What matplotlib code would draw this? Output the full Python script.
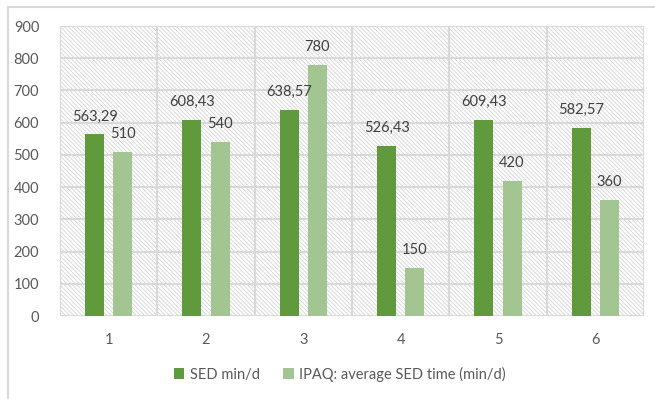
import matplotlib.pyplot as plt
import numpy as np
from matplotlib.patches import Rectangle

plt.rcParams['font.family'] = ['Lato', 'DejaVu Sans']
plt.rcParams['hatch.linewidth'] = 0.7
plt.rcParams['hatch.color'] = '#d9d9d9'

categories = ['1', '2', '3', '4', '5', '6']
sed_min = [563.29, 608.43, 638.57, 526.43, 609.43, 582.57]
ipaq_sed = [510, 540, 780, 150, 420, 360]
series_names = ['SED min/d', 'IPAQ: average SED time (min/d)']
yticks = [0, 100, 200, 300, 400, 500, 600, 700, 800, 900]

dark = '#609a3c'
light = '#a2c591'
grid_c = '#d9d9d9'
text_c = '#404040'


def fmt(v):
    # comma as decimal separator
    if float(v).is_integer():
        return '{:d}'.format(int(v))
    return '{:.2f}'.format(v).replace('.', ',')


fig = plt.figure(figsize=(6.55, 3.99), dpi=100)
ax = fig.add_axes([60 / 655, 1 - 316 / 399, 584 / 655, 290 / 399])

# outer chart frame
fig.patches.append(Rectangle((8 / 655, -0.1), 1.2, 1 - 7 / 399 + 0.1,
                             transform=fig.transFigure, fill=False,
                             edgecolor=grid_c, linewidth=1.5))

x = np.arange(1, len(categories) + 1)
off = 0.144
w = 0.195

# hatched plot background
ax.add_patch(Rectangle((0.5, 0), 6, 900, facecolor='white', hatch='\\' * 8,
                       edgecolor='#d9d9d9', linewidth=0, zorder=0))

for yv in yticks:
    ax.axhline(yv, color=grid_c, linewidth=1.5, zorder=1)
for xv in np.arange(0.5, 7, 1):
    ax.axvline(xv, color=grid_c, linewidth=1.5, zorder=1)

b1 = ax.bar(x - off, sed_min, w, color=dark, zorder=2, label=series_names[0])
b2 = ax.bar(x + off, ipaq_sed, w, color=light, zorder=2, label=series_names[1])

for xi, v in zip(x - off, sed_min):
    ax.annotate(fmt(v), (xi, v), xytext=(0, 13), textcoords='offset points',
                ha='center', va='center', fontsize=10.5, color=text_c)
for xi, v in zip(x + off, ipaq_sed):
    ax.annotate(fmt(v), (xi, v), xytext=(0, 13), textcoords='offset points',
                ha='center', va='center', fontsize=10.5, color=text_c)

ax.set_xlim(0.5, 6.5)
ax.set_ylim(0, 900)
ax.set_yticks(yticks)
ax.set_xticks(x)
ax.set_xticklabels(categories)
for s in ax.spines.values():
    s.set_visible(False)
ax.tick_params(length=0, labelsize=10.5, labelcolor='#595959')
ax.tick_params(axis='y', pad=15)
ax.tick_params(axis='x', pad=12)

fig.legend(handles=[b1, b2], loc='center', bbox_to_anchor=(340 / 655, 1 - 374 / 399),
           ncol=2, frameon=False, fontsize=10.5, labelcolor='#595959',
           handlelength=0.7, handleheight=0.7, handletextpad=0.4, columnspacing=1.6)

fig.savefig('out.png', dpi=100)
